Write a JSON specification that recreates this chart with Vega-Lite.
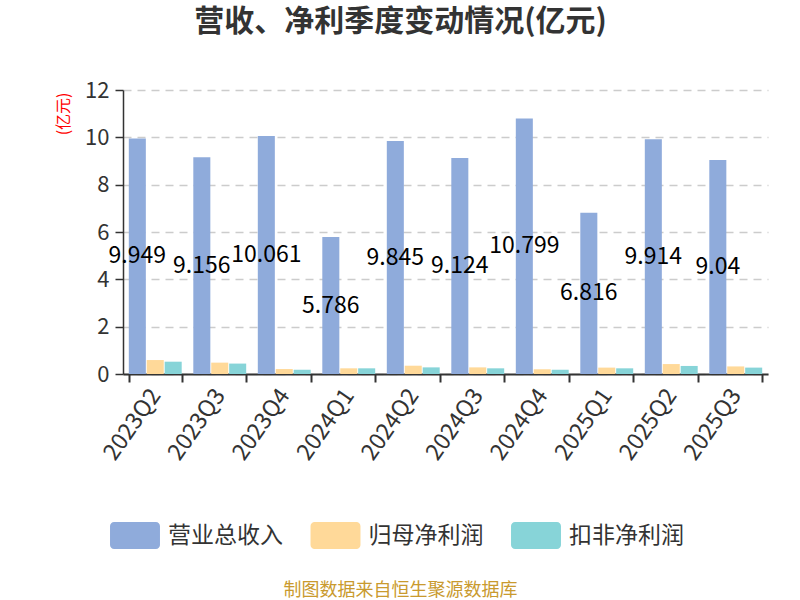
{
  "$schema": "https://vega.github.io/schema/vega-lite/v6.json",
  "width": 645,
  "height": 284,
  "autosize": {"type": "none"},
  "padding": {"left": 123, "top": 90, "right": 32, "bottom": 226},
  "background": "white",
  "config": {"font": "Noto Sans CJK SC", "view": {"stroke": null}},
  "title": {"text": "营收、净利季度变动情况(亿元)", "fontSize": 30, "fontWeight": "bold", "color": "#333333", "anchor": "middle", "dx": -45, "offset": 42},
  "data": {"values": [
    {"q": "2023Q2", "s": "营业总收入", "v": 9.949}, {"q": "2023Q2", "s": "归母净利润", "v": 0.59}, {"q": "2023Q2", "s": "扣非净利润", "v": 0.52},
    {"q": "2023Q3", "s": "营业总收入", "v": 9.156}, {"q": "2023Q3", "s": "归母净利润", "v": 0.48}, {"q": "2023Q3", "s": "扣非净利润", "v": 0.44},
    {"q": "2023Q4", "s": "营业总收入", "v": 10.061}, {"q": "2023Q4", "s": "归母净利润", "v": 0.21}, {"q": "2023Q4", "s": "扣非净利润", "v": 0.18},
    {"q": "2024Q1", "s": "营业总收入", "v": 5.786}, {"q": "2024Q1", "s": "归母净利润", "v": 0.24}, {"q": "2024Q1", "s": "扣非净利润", "v": 0.24},
    {"q": "2024Q2", "s": "营业总收入", "v": 9.845}, {"q": "2024Q2", "s": "归母净利润", "v": 0.35}, {"q": "2024Q2", "s": "扣非净利润", "v": 0.28},
    {"q": "2024Q3", "s": "营业总收入", "v": 9.124}, {"q": "2024Q3", "s": "归母净利润", "v": 0.28}, {"q": "2024Q3", "s": "扣非净利润", "v": 0.24},
    {"q": "2024Q4", "s": "营业总收入", "v": 10.799}, {"q": "2024Q4", "s": "归母净利润", "v": 0.2}, {"q": "2024Q4", "s": "扣非净利润", "v": 0.18},
    {"q": "2025Q1", "s": "营业总收入", "v": 6.816}, {"q": "2025Q1", "s": "归母净利润", "v": 0.27}, {"q": "2025Q1", "s": "扣非净利润", "v": 0.24},
    {"q": "2025Q2", "s": "营业总收入", "v": 9.914}, {"q": "2025Q2", "s": "归母净利润", "v": 0.42}, {"q": "2025Q2", "s": "扣非净利润", "v": 0.34},
    {"q": "2025Q3", "s": "营业总收入", "v": 9.04}, {"q": "2025Q3", "s": "归母净利润", "v": 0.32}, {"q": "2025Q3", "s": "扣非净利润", "v": 0.27}
  ]},
  "layer": [
    {
      "mark": {"type": "bar"},
      "encoding": {
        "x": {"field": "q", "type": "nominal", "sort": null,
          "scale": {"paddingInner": 0.18, "paddingOuter": 0.09},
          "axis": {"title": "制图数据来自恒生聚源数据库", "titleColor": "#c99a2e", "titleFontSize": 18, "titleFontWeight": "normal", "titleX": 277, "titleY": 216, "titleAlign": "center", "titleBaseline": "middle",
            "labelAngle": -55, "labelAlign": "right", "labelBaseline": "middle", "labelFontSize": 23, "labelColor": "#333333", "labelPadding": 9,
            "tickBand": "extent", "tickSize": 8, "tickColor": "#333333", "tickWidth": 2, "domainColor": "#333333", "domainWidth": 2, "grid": false}},
        "xOffset": {"field": "s", "type": "nominal", "scale": {"domain": ["营业总收入", "归母净利润", "扣非净利润"], "paddingInner": 0.05}},
        "y": {"field": "v", "type": "quantitative", "scale": {"domain": [0, 12]},
          "axis": {"title": "(亿元)", "titleColor": "red", "titleFontSize": 16, "titleFontWeight": "normal", "titleAngle": -90, "titleX": -60, "titleY": 2, "titleAlign": "right", "titleBaseline": "middle",
            "values": [0, 2, 4, 6, 8, 10, 12], "labelFontSize": 22, "labelColor": "#333333", "labelPadding": 6,
            "tickSize": 8, "tickColor": "#333333", "tickWidth": 1.5, "domainColor": "#333333", "domainWidth": 1.5,
            "grid": true, "gridDash": [8, 6], "gridColor": "#cccccc", "gridWidth": 1.5}},
        "color": {"field": "s", "type": "nominal",
          "scale": {"domain": ["营业总收入", "归母净利润", "扣非净利润"], "range": ["#8fabdb", "#ffd999", "#87d4d8"]},
          "legend": {"orient": "none", "legendX": -1.5, "legendY": 432, "direction": "horizontal", "title": null,
            "symbolType": "M-1.55,-1 L1.55,-1 A0.3,0.3 0 0 1 1.85,-0.7 L1.85,0.7 A0.3,0.3 0 0 1 1.55,1 L-1.55,1 A0.3,0.3 0 0 1 -1.85,0.7 L-1.85,-0.7 A0.3,0.3 0 0 1 -1.55,-1 Z",
            "symbolSize": 729, "symbolStrokeWidth": 0, "symbolOpacity": 1, "labelFontSize": 23, "labelColor": "#333333",
            "labelOffset": 19.5, "columnPadding": 26.5, "padding": 0, "labelLimit": 300}}
      }
    },
    {
      "transform": [{"filter": "datum.s === '营业总收入'"}],
      "mark": {"type": "text", "fontSize": 23, "color": "#000000"},
      "encoding": {
        "x": {"field": "q", "type": "nominal", "sort": null},
        "xOffset": {"field": "s", "type": "nominal"},
        "y": {"field": "v", "type": "quantitative", "scale": {"domain": [0, 24]}, "axis": null},
        "text": {"field": "v", "type": "nominal"}
      }
    }
  ],
  "resolve": {"scale": {"y": "independent"}}
}
